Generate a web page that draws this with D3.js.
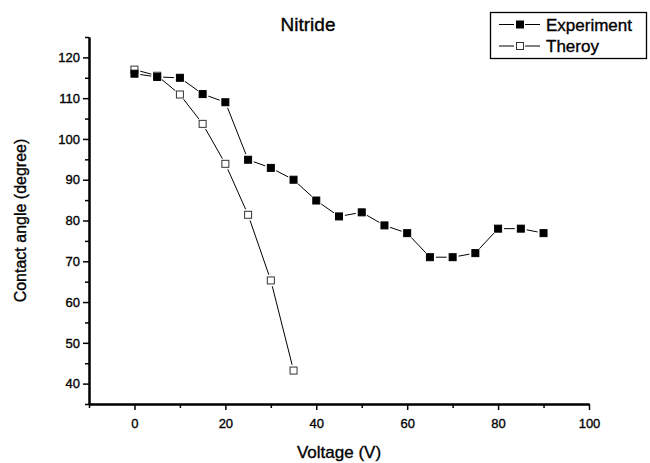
<!DOCTYPE html>
<html>
<head>
<meta charset="utf-8">
<script src="https://cdn.jsdelivr.net/npm/d3@7"></script>
<style>
  html, body { margin: 0; padding: 0; background: #fff; }
  svg { display: block; font-family: "Liberation Sans", Arial, sans-serif; }
  svg text { stroke: #000; stroke-width: 0.35px; fill: #000; }
</style>
</head>
<body>
<svg id="chart" width="650" height="463"></svg>
<script>
// ---- data ----
const title = "Nitride";
const xLabel = "Voltage (V)";
const yLabel = "Contact angle (degree)";
const expVoltage = [0, 5, 10, 15, 20, 25, 30, 35, 40, 45, 50, 55, 60, 65, 70, 75, 80, 85, 90];
const expAngle   = [116, 115.2, 115, 111, 109, 94.9, 92.9, 90, 84.9, 81, 82, 78.8, 76.9, 71, 71, 72, 78, 78, 76.9];
const theoVoltage = [0, 5, 10, 15, 20, 25, 30, 35];
const theoAngle   = [117, 115.5, 110.9, 103.7, 93.9, 81.4, 65.3, 43.2];
const seriesNames = ["Experiment", "Theroy"];
const xTicks = [0, 20, 40, 60, 80, 100];
const yTicks = [40, 50, 60, 70, 80, 90, 100, 110, 120];
const xMinorTicks = [-10, 10, 30, 50, 70, 90];
const yMinorTicks = [35, 45, 55, 65, 75, 85, 95, 105, 115, 125];

const svg = d3.select("#chart");
const x = d3.scaleLinear().domain([-10, 100]).range([89, 589]);
const y = d3.scaleLinear().domain([35, 125]).range([404, 37]);

// axes
const gx = svg.append("g").attr("transform", `translate(0,${y(35)})`);
gx.call(d3.axisBottom(x).tickValues(xTicks).tickSize(6).tickSizeOuter(0).tickPadding(9).tickFormat(d3.format("d")));
gx.append("g").call(d3.axisBottom(x).tickValues(xMinorTicks).tickSize(4).tickSizeOuter(0).tickFormat(""));

const gy = svg.append("g").attr("transform", `translate(${x(-10)},0)`);
gy.call(d3.axisLeft(y).tickValues(yTicks).tickSize(6).tickSizeOuter(0).tickPadding(3).tickFormat(d3.format("d")));
gy.append("g").call(d3.axisLeft(y).tickValues(yMinorTicks).tickSize(4).tickSizeOuter(0).tickFormat(""));

svg.selectAll(".domain").attr("stroke", "#000").attr("stroke-width", 2);
svg.selectAll(".tick line").attr("stroke", "#000").attr("stroke-width", 1.5);
svg.selectAll(".tick text").attr("fill", "#000").style("font-size", "13px").style("font-family", "Liberation Sans, Arial, sans-serif");

// series drawing with gaps around markers
const GAP = 6;
function drawSeries(xs, ys, filled) {
  const pts = xs.map((v, i) => [x(v), y(ys[i])]);
  const g = svg.append("g");
  for (let i = 0; i < pts.length - 1; i++) {
    const [x1, y1] = pts[i], [x2, y2] = pts[i + 1];
    const dx = x2 - x1, dy = y2 - y1, len = Math.hypot(dx, dy);
    if (len <= 2 * GAP) continue;
    const ux = dx / len, uy = dy / len;
    g.append("line")
      .attr("x1", x1 + ux * GAP).attr("y1", y1 + uy * GAP)
      .attr("x2", x2 - ux * GAP).attr("y2", y2 - uy * GAP)
      .attr("stroke", "#000").attr("stroke-width", 1);
  }
  const s = 7;
  g.selectAll("rect").data(pts).enter().append("rect")
    .attr("x", d => d[0] - s / 2).attr("y", d => d[1] - s / 2)
    .attr("width", s).attr("height", s)
    .attr("fill", filled ? "#000" : "#fff")
    .attr("stroke", filled ? "#000" : "#333").attr("stroke-width", 1);
}
drawSeries(theoVoltage, theoAngle, false);
drawSeries(expVoltage, expAngle, true);

// title and labels
svg.append("text").attr("x", 308).attr("y", 31).attr("text-anchor", "middle")
  .style("font-size", "19px").text(title);
svg.append("text").attr("x", (x(-10) + x(100)) / 2).attr("y", 458).attr("text-anchor", "middle")
  .style("font-size", "17px").text(xLabel);
svg.append("text").attr("transform", `translate(26,${(y(35) + y(125)) / 2}) rotate(-90)`)
  .attr("text-anchor", "middle").style("font-size", "16px").text(yLabel);

// legend
const lg = svg.append("g");
lg.append("rect").attr("x", 490.5).attr("y", 12.5).attr("width", 156).attr("height", 46)
  .attr("fill", "#fff").attr("stroke", "#000").attr("stroke-width", 1.3);
seriesNames.forEach((name, i) => {
  const cy = 24.5 + i * 21.5;
  lg.append("line").attr("x1", 499).attr("x2", 514).attr("y1", cy).attr("y2", cy).attr("stroke", "#000");
  lg.append("line").attr("x1", 525).attr("x2", 540).attr("y1", cy).attr("y2", cy).attr("stroke", "#000");
  lg.append("rect").attr("x", 516.5).attr("y", cy - 3.5).attr("width", 7).attr("height", 7)
    .attr("fill", i === 0 ? "#000" : "#fff").attr("stroke", i === 0 ? "#000" : "#333");
  lg.append("text").attr("x", 546).attr("y", cy + 6).style("font-size", "17px").text(name);
});
</script>
</body>
</html>
